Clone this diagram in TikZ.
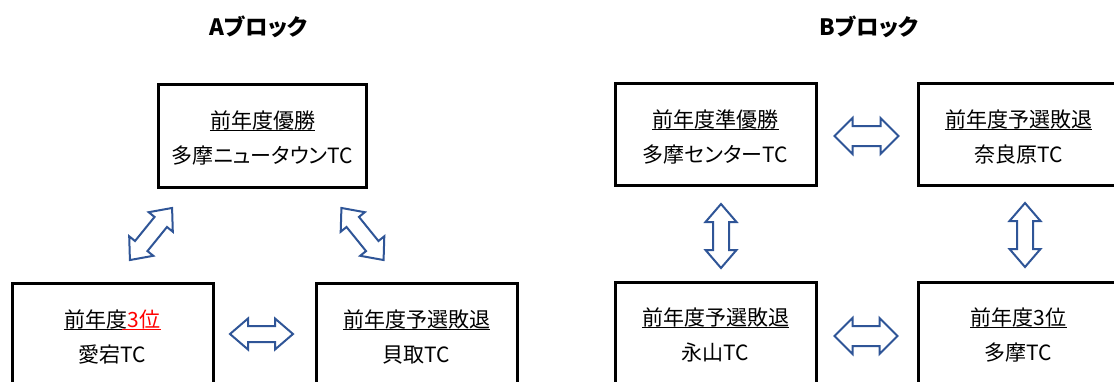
\documentclass[tikz,border=0pt]{standalone}
\usepackage{fontspec}
\setmainfont{Noto Sans CJK JP}[CharacterWidth=AlternateProportional]
\usetikzlibrary{calc}
\definecolor{arrowblue}{HTML}{2F5597}
\tikzset{
  box/.style={draw=black, line width=3pt, minimum width=201pt, minimum height=102pt, inner sep=0pt},
  lbl/.style={font=\fontsize{21}{25}\selectfont, inner sep=0pt, anchor=base},
  ttl/.style={font=\bfseries\fontsize{22.5}{27}\selectfont, inner sep=0pt},
  ulin/.style={line width=1.3pt},
  blk/.style={draw=arrowblue, line width=2pt, fill=white, line join=miter},
  pics/darrow/.style args={#1/#2/#3}{code={
    % #1 length, #2 head width, #3 shaft width, head length 18
    \path[blk] (-#1/2,0) -- (-#1/2+18,#2/2) -- (-#1/2+18,#3/2) -- (#1/2-18,#3/2)
      -- (#1/2-18,#2/2) -- (#1/2,0) -- (#1/2-18,-#2/2) -- (#1/2-18,-#3/2)
      -- (-#1/2+18,-#3/2) -- (-#1/2+18,-#2/2) -- cycle;
  }}
}
\newcommand\boxtext[5]{% name, x, top, line1, line2
  \node[lbl] (#1a) at (#2,#3+44) {#4};
  \node[lbl] (#1b) at (#2,#3+79) {#5};
}
\begin{document}
\begin{tikzpicture}[x=1pt,y=-1pt]
\useasboundingbox (0,0) rectangle (1114,381);
\clip (0,0) rectangle (1114,381);

% titles
\node[ttl] (ta) at (258.5,27) {Aブロック};
\node[ttl] (tb) at (869,27) {Bブロック};

% A block boxes
\node[box, minimum width=208pt, minimum height=103pt] (A1) at (262.5,135.5) {};
\node[box] (A2) at (112.5,334.5) {};
\node[box] (A3) at (416.5,334.5) {};
% B block boxes
\node[box] (B1) at (715.5,134) {};
\node[box] (B2) at (1018.5,134) {};
\node[box] (B3) at (715.5,333) {};
\node[box] (B4) at (1018.5,333) {};

% texts
\boxtext{a1}{262.5}{84}{前年度優勝}{多摩ニュータウンTC}
\boxtext{a2}{112.5}{283}{前年度\textcolor{red}{3位}}{愛宕TC}
\boxtext{a3}{416.5}{283}{前年度予選敗退}{貝取TC}
\boxtext{b1}{715.5}{83}{前年度準優勝}{多摩センターTC}
\boxtext{b2}{1018.5}{83}{前年度予選敗退}{奈良原TC}
\boxtext{b3}{715.5}{281}{前年度予選敗退}{永山TC}
\boxtext{b4}{1018.5}{281}{前年度3位}{多摩TC}

% underlines
\foreach \n in {a1a,a3a,b1a,b2a,b3a,b4a}{
  \draw[ulin] ($(\n.base west)+(0,2.5)$) -- ($(\n.base east)+(0,2.5)$);
}
\path ($(a2a.base west)!0.595!(a2a.base east)$) coordinate (a2m);
\draw[ulin] ($(a2a.base west)+(0,2.5)$) -- ($(a2m)+(0,2.5)$);
\draw[ulin, red] ($(a2m)+(0,2.5)$) -- ($(a2a.base east)+(0,2.5)$);

% block arrows
\pic at (261.5,334) {darrow={63/31/16}};
\pic[rotate=51] at (151,234) {darrow={67/31/16}};
\pic[rotate=-51] at (362.5,234) {darrow={67/31/16}};
\pic at (866.5,136) {darrow={64/36/20}};
\pic at (866,336) {darrow={63/36/20}};
\pic[rotate=90] at (721,236) {darrow={64/31/16}};
\pic[rotate=90] at (1025,235) {darrow={64/31/16}};
\end{tikzpicture}
\end{document}
